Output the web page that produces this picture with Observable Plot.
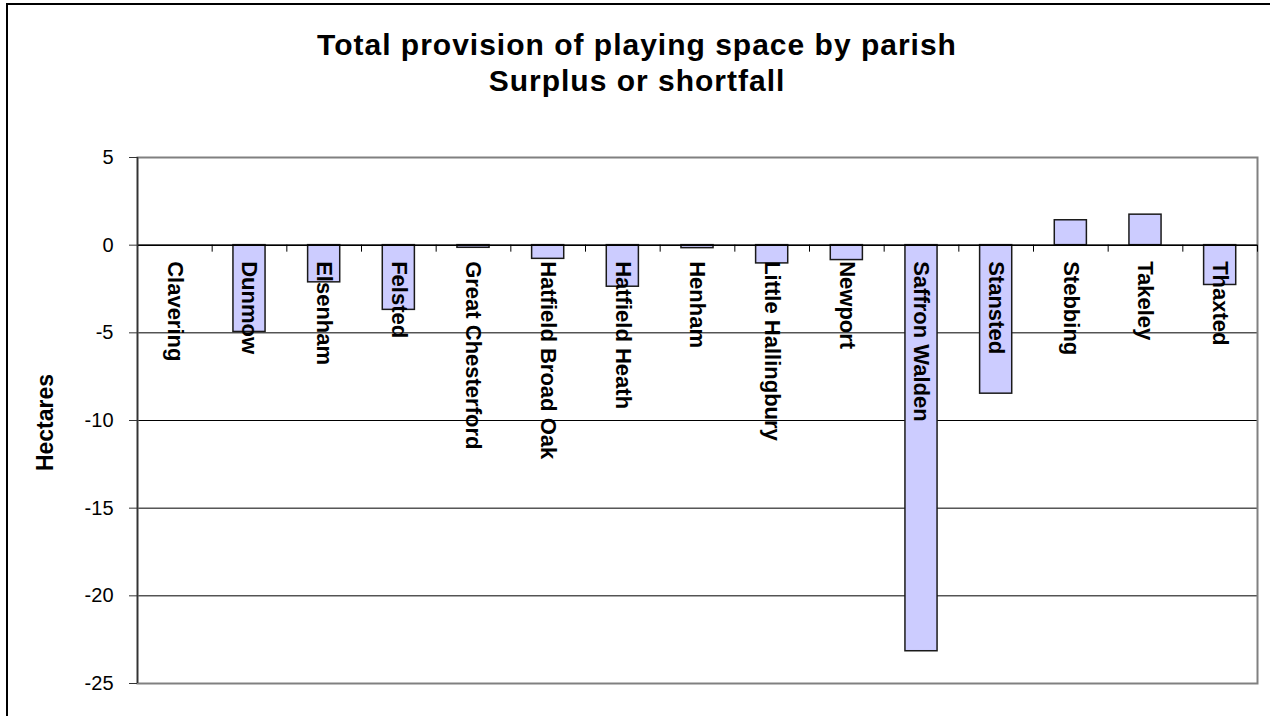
<!DOCTYPE html>
<html><head><meta charset="utf-8">
<script src="https://cdn.jsdelivr.net/npm/d3@7"></script>
<script src="https://cdn.jsdelivr.net/npm/@observablehq/plot@0.6"></script>
<style>
body{margin:0;background:#fff;font-family:Arial,"Liberation Sans",sans-serif;}
#wrap{position:relative;width:1270px;height:716px;overflow:hidden;}
#frame{position:absolute;left:6px;top:3px;width:1300px;height:800px;border-left:2px solid #000;border-top:2px solid #000;}
.title{position:absolute;left:0;width:1274px;text-align:center;font-weight:bold;font-size:30px;line-height:36px;letter-spacing:1px;color:#000;}
#chart{position:absolute;left:0;top:0;}
</style></head><body>
<div id="wrap">
<div id="frame"></div>
<div id="chart"></div>
<div class="title" style="top:27px">Total provision of playing space by parish</div>
<div class="title" style="top:63px">Surplus or shortfall</div>
</div>
<script>
const parishes = ["Clavering","Dunmow","Elsenham","Felsted","Great Chesterford","Hatfield Broad Oak","Hatfield Heath","Henham","Little Hallingbury","Newport","Saffron Walden","Stansted","Stebbing","Takeley","Thaxted"];
const hectares = [0, -4.95, -2.12, -3.69, -0.15, -0.78, -2.37, -0.17, -1.04, -0.85, -23.16, -8.47, 1.42, 1.74, -2.27];
const yTicks = [-25, -20, -15, -10, -5, 0, 5];
const yTitle = "Hectares";

const rows = parishes.map((p, i) => ({parish: p, value: hectares[i]}));
const W = 1270, H = 716, mL = 137, mR = 13, mT = 157, mB = 33;
const step = (W - mL - mR) / parishes.length;
const yMin = yTicks[0], yMax = yTicks[yTicks.length - 1];
const tickLen = 7 * (yMax - yMin) / (H - mT - mB); // 7px expressed in y units

const chart = Plot.plot({
  width: W, height: H,
  marginLeft: mL, marginRight: mR, marginTop: mT, marginBottom: mB,
  style: {fontFamily: "Arial, 'Liberation Sans', sans-serif", color: "#000", background: "transparent"},
  x: {domain: parishes, paddingInner: 0.57, paddingOuter: 0.285, round: false, axis: null},
  y: {domain: [yMin, yMax], axis: null},
  marks: [
    Plot.ruleY(yTicks.slice(1, -1), {stroke: "#000", strokeWidth: 1}),
    Plot.frame({stroke: "#808080", strokeWidth: 2}),
    Plot.barY(rows.filter(d => d.value !== 0), {x: "parish", y: "value", fill: "#ccccff", stroke: "#1a1a1a", strokeWidth: 1.5}),
    Plot.ruleY([0], {stroke: "#000", strokeWidth: 1.5}),
    Plot.ruleX(parishes, {x: d => d, y1: 0, y2: -tickLen, dx: -step / 2, stroke: "#000", strokeWidth: 1}),
    Plot.ruleX([parishes[parishes.length - 1]], {x: d => d, y1: 0, y2: -tickLen, dx: step / 2, stroke: "#000", strokeWidth: 1}),
    Plot.ruleX([parishes[0]], {x: d => d, y1: yMin, y2: yMax, dx: -step / 2, stroke: "#333", strokeWidth: 1.5}),
    Plot.axisY({ticks: yTicks, tickSize: 8, tickPadding: 16, fontSize: 20, label: null, stroke: "#333", tickFormat: d => String(d)}),
    Plot.text(rows, {x: "parish", y: () => 0, text: "parish", rotate: 90, textAnchor: "start", dy: 16, fontSize: 22, fontWeight: "bold", fill: "#000"}),
    Plot.text([yTitle], {frameAnchor: "left", textAnchor: "middle", dx: -92, dy: 2, rotate: -90, fontSize: 23, fontWeight: "bold", fill: "#000"})
  ]
});
document.getElementById("chart").appendChild(chart);
</script>
</body></html>
